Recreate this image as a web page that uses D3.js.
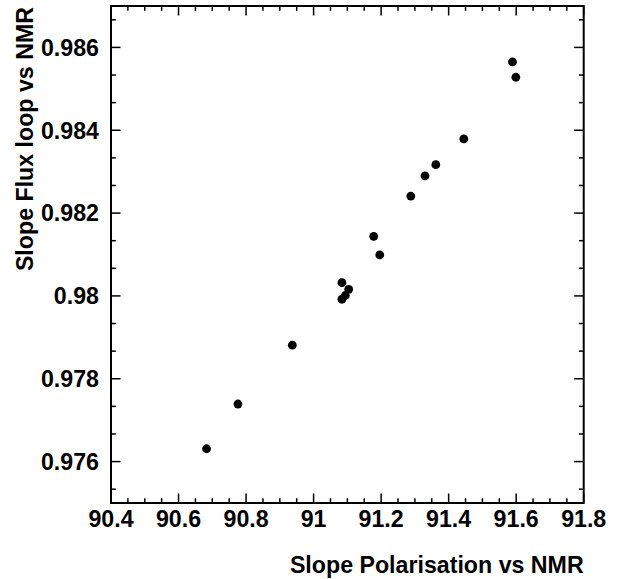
<!DOCTYPE html>
<html>
<head>
<meta charset="utf-8">
<title>Slope Flux loop vs Slope Polarisation</title>
<script src="https://d3js.org/d3.v7.min.js"></script>
<style>
  body { margin: 0; background: #fff; }
  text { font-family: "Liberation Sans", Arial, Helvetica, sans-serif; font-weight: bold; fill: #000; font-size: 23.2px; }
</style>
</head>
<body>
<div id="chart"></div>

<script type="text/javascript">
// values
var slopePol  = [90.683, 90.776, 90.937, 91.084, 91.094, 91.084, 91.104, 91.178, 91.196, 91.288, 91.330, 91.362, 91.445, 91.589, 91.599];
var slopeFlux = [0.97631, 0.97739, 0.97881, 0.97992, 0.98001, 0.98032, 0.98016, 0.98144, 0.98099, 0.98241, 0.98290, 0.98317, 0.98379, 0.98565, 0.98528];
var xTicks = [90.4, 90.6, 90.8, 91, 91.2, 91.4, 91.6, 91.8];
var yTicks = [0.976, 0.978, 0.98, 0.982, 0.984, 0.986];
var xTitle = "Slope Polarisation vs NMR",
    yTitle = "Slope Flux loop vs NMR";

// note: "top" is a read-only global in browsers, so use frame* names
var width = 626, height = 579,
    frameL = 111, frameR = 583.7, frameT = 6, frameB = 503;

var x = d3.scaleLinear().domain([90.4, 91.8]).range([frameL, frameR]);
var y = d3.scaleLinear().domain([0.975, 0.987]).range([frameB, frameT]);

var svg = d3.select("#chart").append("svg")
  .attr("width", width)
  .attr("height", height);

// minor ticks: x every 0.05, y every 0.002/3
var xMinor = d3.range(0, 29).map(function(i) { return 90.4 + i * 0.05; });
var yMinor = d3.range(-2, 17).map(function(i) { return 0.976 + i * 0.002 / 3; })
  .filter(function(v) { return v >= 0.975 && v <= 0.987; });

function isMajor(v, list) {
  return list.some(function(t) { return Math.abs(t - v) < 1e-6; });
}

var ticks = svg.append("g").attr("stroke", "#000").attr("stroke-width", 1.5);

xMinor.forEach(function(v) {
  var len = isMajor(v, xTicks) ? 9.5 : 4.8;
  ticks.append("line").attr("x1", x(v)).attr("x2", x(v)).attr("y1", frameB).attr("y2", frameB - len);
  ticks.append("line").attr("x1", x(v)).attr("x2", x(v)).attr("y1", frameT).attr("y2", frameT + len);
});
yMinor.forEach(function(v) {
  var len = isMajor(v, yTicks) ? 9.5 : 4.8;
  ticks.append("line").attr("y1", y(v)).attr("y2", y(v)).attr("x1", frameL).attr("x2", frameL + len);
  ticks.append("line").attr("y1", y(v)).attr("y2", y(v)).attr("x1", frameR).attr("x2", frameR - len);
});

// frame
svg.append("rect")
  .attr("x", frameL).attr("y", frameT)
  .attr("width", frameR - frameL).attr("height", frameB - frameT)
  .attr("fill", "none").attr("stroke", "#000").attr("stroke-width", 2);

// tick labels
svg.selectAll(".xlab")
  .data(xTicks)
  .enter().append("text")
  .attr("class", "xlab")
  .attr("x", function(d) { return x(d); })
  .attr("y", 527)
  .style("text-anchor", "middle")
  .text(function(d) { return d3.format("")(d); });

svg.selectAll(".ylab")
  .data(yTicks)
  .enter().append("text")
  .attr("class", "ylab")
  .attr("x", 99)
  .attr("y", function(d) { return y(d); })
  .attr("dy", "0.36em")
  .style("text-anchor", "end")
  .text(function(d) { return d3.format("")(d); });

// axis titles
svg.append("text")
  .attr("x", frameR)
  .attr("y", 573)
  .style("text-anchor", "end")
  .text(xTitle);

svg.append("text")
  .attr("transform", "translate(33,7) rotate(-90)")
  .style("text-anchor", "end")
  .text(yTitle);

// points
svg.selectAll(".dot")
  .data(slopePol)
  .enter().append("circle")
  .attr("class", "dot")
  .attr("cx", function(d) { return x(d); })
  .attr("cy", function(d, i) { return y(slopeFlux[i]); })
  .attr("r", 4.4)
  .attr("fill", "#000");
</script>
</body>
</html>
